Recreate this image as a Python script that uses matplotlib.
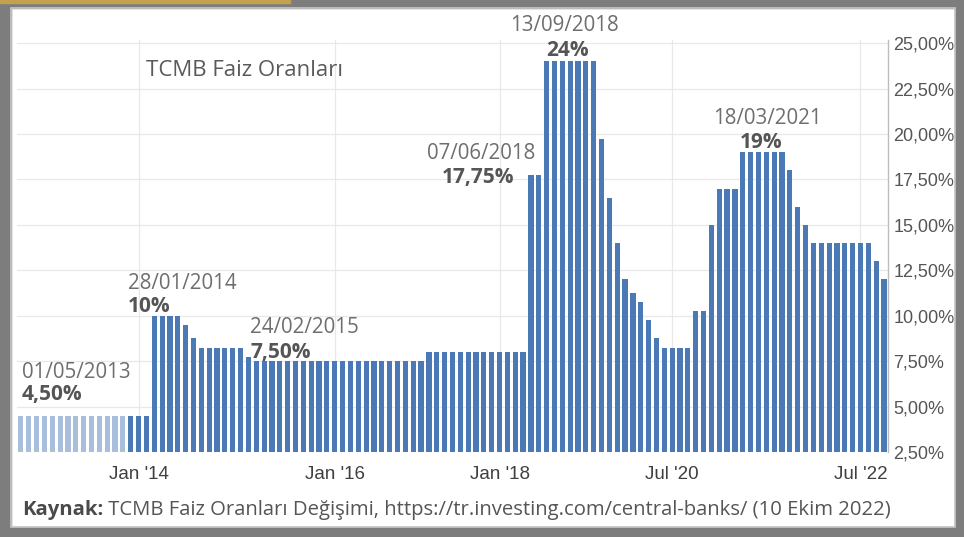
#!/usr/bin/env python
'''
    TCMB faiz oranlari
    ------------------

    Bar chart of the central bank policy rate, one bar per decision.
'''

import matplotlib.pyplot as plt
from matplotlib.patches import Rectangle
from matplotlib.ticker import FuncFormatter

# Policy rate (%), left to right.
rates = [
    4.5, 4.5, 4.5, 4.5, 4.5, 4.5, 4.5, 4.5, 4.5, 4.5, 4.5, 4.5, 4.5, 4.5,
    4.5, 4.5, 4.5,
    10, 10, 10, 10, 9.5, 8.75,
    8.25, 8.25, 8.25, 8.25, 8.25, 8.25, 7.75,
    7.5, 7.5, 7.5, 7.5, 7.5, 7.5, 7.5, 7.5, 7.5, 7.5, 7.5,
    7.5, 7.5, 7.5, 7.5, 7.5, 7.5, 7.5, 7.5, 7.5, 7.5, 7.5,
    8, 8, 8, 8, 8, 8, 8, 8, 8, 8, 8, 8, 8,
    17.75, 17.75,
    24, 24, 24, 24, 24, 24, 24,
    19.75, 16.5, 14, 12, 11.25, 10.75, 9.75, 8.75,
    8.25, 8.25, 8.25, 8.25, 10.25, 10.25,
    15, 17, 17, 17, 19, 19, 19, 19, 19, 19, 18, 16, 15,
    14, 14, 14, 14, 14, 14, 14, 14, 13, 12,
]

# Category ticks on the x axis.
tick_pos = [15, 40, 61, 83, 107]
tick_labels = ["Jan '14", "Jan '16", "Jan '18", "Jul '20", "Jul '22"]

# Callouts: date, value text.
note_dates = ['01/05/2013', '28/01/2014', '24/02/2015', '07/06/2018', '13/09/2018', '18/03/2021']
note_values = ['4,50%', '10%', '7,50%', '17,75%', '24%', '19%']

# Where the callouts sit (data coords): date anchor, value anchor, value alignment.
note_date_xy = [(0.1, 6.9), (13.6, 11.8), (29.2, 9.35), (51.7, 18.95), (62.3, 25.95), (88.2, 20.85)]
note_value_xy = [(0.1, 5.65), (13.6, 10.5), (29.2, 8.0), (62.9, 17.6), (67.0, 24.6), (91.6, 19.55)]
note_value_ha = ['left', 'left', 'left', 'right', 'left', 'left']

FADED = 14          # first bars are washed out in the source picture
BLUE = '#4b79b6'
PALE = '#a9bedb'
GREY = '#6e6e6e'
DARK = '#555555'

plt.rcParams['font.family'] = ['Open Sans', 'DejaVu Sans']

fig = plt.figure(figsize=(9.64, 5.37), dpi=100)
fig.patch.set_facecolor('white')

ax = fig.add_axes([0.0176, 0.1583, 0.9035, 0.767])

x = list(range(len(rates)))
colors = [PALE if i < FADED else BLUE for i in x]
ax.bar(x, [r - 2.5 for r in rates], bottom=2.5, width=0.66, color=colors, zorder=2)

ax.set_xlim(-0.5, len(rates) - 0.5)
ax.set_ylim(2.5, 25.17)

# Right hand percentage axis.
ax.yaxis.tick_right()
ax.set_yticks([2.5, 5, 7.5, 10, 12.5, 15, 17.5, 20, 22.5, 25])
ax.yaxis.set_major_formatter(FuncFormatter(lambda v, p: f'{v:.2f}%'.replace('.', ',')))
ax.tick_params(axis='y', length=0, pad=4, labelsize=13, labelcolor='#555555')
for lab in ax.get_yticklabels():
    lab.set_family(['Liberation Sans', 'DejaVu Sans'])

ax.set_xticks(tick_pos)
ax.set_xticklabels(tick_labels, family=['Liberation Sans', 'DejaVu Sans'])
ax.tick_params(axis='x', length=0, pad=10, labelsize=13.5, labelcolor='#3f3f3f')

for s in ['top', 'left', 'bottom']:
    ax.spines[s].set_visible(False)
ax.spines['right'].set_color('#bdbdbd')
ax.spines['right'].set_linewidth(1.0)

ax.grid(True, color='#e8e8e8', linewidth=0.9, zorder=0)
ax.set_axisbelow(True)

# Callouts
for d, v, dxy, vxy, ha in zip(note_dates, note_values, note_date_xy, note_value_xy, note_value_ha):
    ax.text(dxy[0], dxy[1], d, fontsize=14.8, color=GREY, va='center', ha='left', clip_on=False, zorder=3)
    ax.text(vxy[0], vxy[1], v, fontsize=15, color=DARK, fontweight='bold', va='center', ha=ha,
            clip_on=False, zorder=3)

# Title inside the chart
fig.text(0.151, 0.868, 'TCMB Faiz Oranları', fontsize=16, color='#5a5a5a', va='center', ha='left')

# Source line
src = fig.text(0.023, 0.050, 'Kaynak:', fontsize=14.6, color='#4a4a4a', fontweight='bold', va='center', ha='left')
ax.annotate(' TCMB Faiz Oranları Değişimi, https://tr.investing.com/central-banks/ (10 Ekim 2022)',
            xy=(1, 0.5), xycoords=src, va='center', ha='left', fontsize=14.6, color='#555555',
            annotation_clip=False)

# Screenshot frame
frame = '#7d7d7d'
fig.add_artist(Rectangle((0, 0), 1, 10 / 537, transform=fig.transFigure, color=frame, zorder=5))
fig.add_artist(Rectangle((0, 1 - 8 / 537), 1, 8 / 537, transform=fig.transFigure, color=frame, zorder=5))
fig.add_artist(Rectangle((0, 0), 11 / 964, 1, transform=fig.transFigure, color=frame, zorder=5))
fig.add_artist(Rectangle((1 - 9 / 964, 0), 9 / 964, 1, transform=fig.transFigure, color=frame, zorder=5))
fig.add_artist(Rectangle((0, 1 - 3 / 537), 290 / 964, 3 / 537, transform=fig.transFigure, color='#c2a24c', zorder=6))
fig.add_artist(Rectangle((11 / 964, 10 / 537), 1 - 20 / 964, 1 - 18 / 537, transform=fig.transFigure,
                         fill=False, edgecolor='#c8c8c8', linewidth=1.2, zorder=5))

fig.savefig('out.png', dpi=100)
